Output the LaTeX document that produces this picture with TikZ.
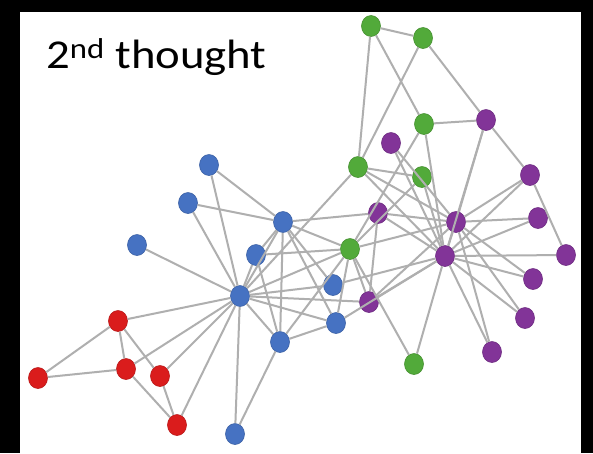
\documentclass[tikz,border=0pt]{standalone}
\usepackage{fontspec}
\setmainfont{Carlito}
\usetikzlibrary{shapes.geometric}
\definecolor{cblue}{RGB}{70,114,194}
\definecolor{cred}{RGB}{218,28,28}
\definecolor{cgreen}{RGB}{82,170,58}
\definecolor{cpurple}{RGB}{130,52,152}
\definecolor{clink}{RGB}{175,175,175}
\begin{document}
\begin{tikzpicture}[x=1pt,y=-1pt,
  vert/.style={ellipse, minimum width=19pt, minimum height=21pt, inner sep=0pt, line width=0.6pt},
  vb/.style={vert, fill=cblue, draw=cblue!85!black},
  vr/.style={vert, fill=cred, draw=cred!85!black},
  vg/.style={vert, fill=cgreen, draw=cgreen!85!black},
  vp/.style={vert, fill=cpurple, draw=cpurple!85!black},
  link/.style={draw=clink, line width=2pt}]
\useasboundingbox (0,0) rectangle (593,453);
\fill[black] (0,0) rectangle (593,453);
\fill[white] (20,12) rectangle (581,453);

\node[anchor=base west, inner sep=0pt, font=\fontsize{41}{48}\selectfont] (title) at (46,68)
  {\scalebox{1.14}[1]{2\textsuperscript{nd} thought}};

% blue group
\node[vb] (b1)  at (209,165) {};
\node[vb] (b2)  at (188,203) {};
\node[vb] (b3)  at (137,245) {};
\node[vb] (b4)  at (283,222) {};
\node[vb] (b5)  at (256,255) {};
\node[vb] (b6)  at (240,296) {};
\node[vb] (b7)  at (333,285) {};
\node[vb] (b8)  at (336,323) {};
\node[vb] (b9)  at (280,342) {};
\node[vb] (b10) at (235,434) {};
% red group
\node[vr] (r1) at (118,321) {};
\node[vr] (r2) at (126,369) {};
\node[vr] (r3) at (160,376) {};
\node[vr] (r4) at (38,378) {};
\node[vr] (r5) at (177,425) {};
% green group
\node[vg] (g1) at (371,26) {};
\node[vg] (g2) at (423,38) {};
\node[vg] (g3) at (424,124) {};
\node[vg] (g4) at (358,167) {};
\node[vg] (g5) at (422,177) {};
\node[vg] (g6) at (350,249) {};
\node[vg] (g7) at (414,364) {};
% purple group
\node[vp] (p1)  at (486,120) {};
\node[vp] (p2)  at (391,143) {};
\node[vp] (p3)  at (530,175) {};
\node[vp] (p4)  at (378,213) {};
\node[vp] (p5)  at (538,218) {};
\node[vp] (p6)  at (456,222) {};
\node[vp] (p7)  at (566,255) {};
\node[vp] (p8)  at (445,256) {};
\node[vp] (p9)  at (533,279) {};
\node[vp] (p10) at (369,302) {};
\node[vp] (p11) at (525,318) {};
\node[vp] (p12) at (492,352) {};

% connectors
\foreach \a/\b in {
  b6/b4, b6/g6, b6/b9, b6/r5, b6/r1, b6/r2, b6/b5, b6/p10, b6/r3, b6/b3,
  b6/b10, b6/b8, b6/b1, b6/b7, b6/b2, b6/g4,
  b4/g6, b4/b9, b4/b5, b4/b8, b4/b1, b4/b7, b4/b2, b4/p4,
  g6/b9, g6/b5, g6/p10, g6/g7, g6/b8, g6/g3, g6/g5, g6/p6,
  b9/b5, b9/b10, b9/b8,
  r5/r2, r5/r3, r1/r2, r1/r3, r1/r4, r2/r4,
  p10/p4, p10/p6, p10/p8,
  g7/p8, b8/p8, b7/p8,
  p2/p6, p2/p8, p5/p6, p5/p8, p9/p6, p9/p8, p11/p6, p11/p8, p12/p6, p12/p8,
  p1/g2, p1/g3, p1/p3, p1/p6, p1/p8,
  g1/g2, g1/g3, g1/g4, g2/g4,
  p7/p3, p7/p8, g3/p8, g5/g4, g5/p8,
  p3/p6, p3/p8, p4/p6, p4/p8, g4/p6, g4/p8, p6/p8}
  \draw[link] (\a) -- (\b);
\end{tikzpicture}
\end{document}
